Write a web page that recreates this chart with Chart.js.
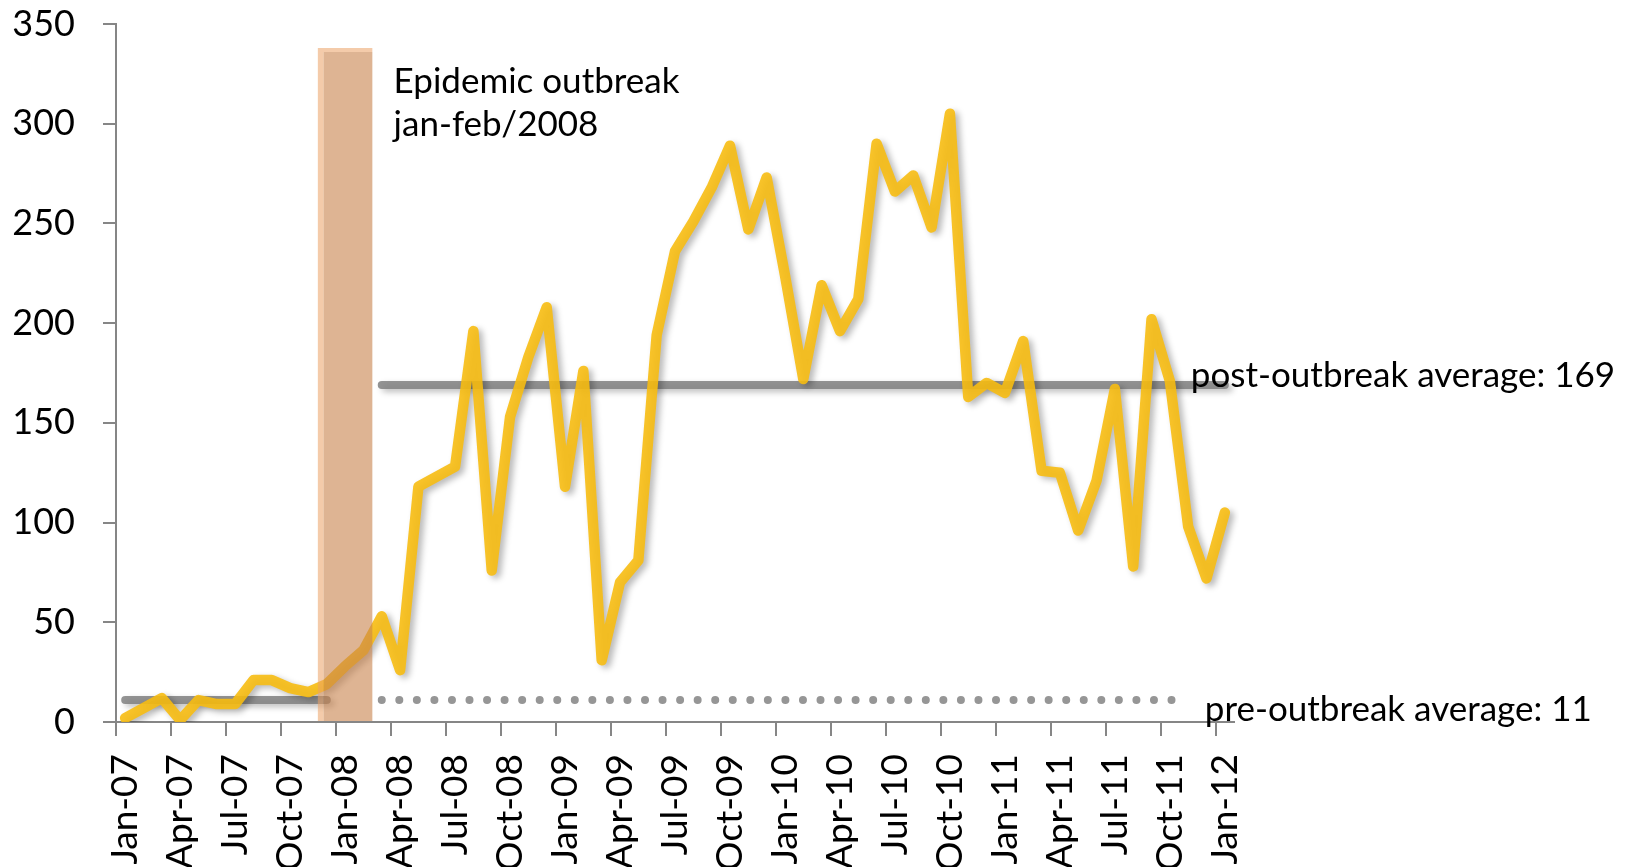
<!DOCTYPE html>
<html>
<head>
<meta charset="utf-8">
<script src="https://cdn.jsdelivr.net/npm/chart.js@4.4.1/dist/chart.umd.min.js"></script>
<style>
  html, body { margin: 0; padding: 0; background: #ffffff; }
  #wrap { width: 1626px; height: 867px; position: relative; }
  canvas { display: block; }
</style>
</head>
<body>
<div id="wrap"><canvas id="chart" width="1626" height="867"></canvas></div>
<script>
// Monthly case counts, January 2007 to January 2012
const months = [
  'Jan-07','Feb-07','Mar-07','Apr-07','May-07','Jun-07','Jul-07','Aug-07','Sep-07','Oct-07','Nov-07','Dec-07',
  'Jan-08','Feb-08','Mar-08','Apr-08','May-08','Jun-08','Jul-08','Aug-08','Sep-08','Oct-08','Nov-08','Dec-08',
  'Jan-09','Feb-09','Mar-09','Apr-09','May-09','Jun-09','Jul-09','Aug-09','Sep-09','Oct-09','Nov-09','Dec-09',
  'Jan-10','Feb-10','Mar-10','Apr-10','May-10','Jun-10','Jul-10','Aug-10','Sep-10','Oct-10','Nov-10','Dec-10',
  'Jan-11','Feb-11','Mar-11','Apr-11','May-11','Jun-11','Jul-11','Aug-11','Sep-11','Oct-11','Nov-11','Dec-11',
  'Jan-12'
];

const cases = [
  2, 7, 12, 1, 11, 9, 9, 21, 21, 17, 15, 19,
  28, 36, 53, 26, 118, 123, 128, 196, 76, 153, 183, 208,
  118, 176, 31, 70, 81, 194, 236, 251, 268, 289, 247, 273,
  224, 172, 219, 196, 212, 290, 266, 274, 248, 305, 163, 170,
  165, 191, 126, 125, 96, 121, 167, 78, 202, 171, 98, 72,
  105
];

const yTicks = [0, 50, 100, 150, 200, 250, 300, 350];

// Reference levels and the months they span
const preAverage = 11;
const postAverage = 169;
const preSpan = ['Jan-07', 'Dec-07'];
const postSpan = ['Mar-08', 'Jan-12'];
const preCompareSpan = ['Mar-08', 'Nov-11'];

// Shaded band marking the outbreak
const outbreakMonth = 'Jan-08';
const outbreakBandTop = 338;

const outbreakNote = ['Epidemic outbreak', 'jan-feb/2008'];
const postNote = 'post-outbreak average: ' + postAverage;
const preNote = 'pre-outbreak average: ' + preAverage;

function levelOver(span, level) {
  const a = months.indexOf(span[0]);
  const b = months.indexOf(span[1]);
  return months.map((m, i) => (i >= a && i <= b ? level : null));
}

const FONT = 'Lato';
const AXIS_GREY = '#868686';

// Soft drop shadow under the drawn series
const shadowPlugin = {
  id: 'softShadow',
  beforeDatasetDraw(chart, args) {
    const ds = chart.data.datasets[args.index];
    const c = chart.ctx;
    c.save();
    if (!ds.noShadow) {
      c.shadowColor = 'rgba(0,0,0,0.3)';
      c.shadowBlur = 6;
      c.shadowOffsetX = 4;
      c.shadowOffsetY = 3;
    }
  },
  afterDatasetDraw(chart) {
    chart.ctx.restore();
  }
};

// Text notes beside the band and the average lines
const notesPlugin = {
  id: 'notes',
  afterDatasetsDraw(chart) {
    const c = chart.ctx;
    const x = chart.scales.x;
    const y = chart.scales.y;
    c.save();
    c.fillStyle = '#000000';
    c.font = '35px ' + FONT;
    c.textAlign = 'left';
    c.textBaseline = 'alphabetic';

    const bandIdx = months.indexOf(outbreakMonth);
    const cat = x.getPixelForValue(1) - x.getPixelForValue(0);
    const bandRight = x.getPixelForValue(bandIdx) + cat * 1.5;
    const topY = y.getPixelForValue(outbreakBandTop);
    c.fillText(outbreakNote[0], bandRight + 21, topY + 45);
    c.fillText(outbreakNote[1], bandRight + 21, topY + 88);

    const lastX = x.getPixelForValue(months.length - 1);
    c.fillText(postNote, lastX - 34, y.getPixelForValue(postAverage) + 2);
    c.fillText(preNote, lastX - 20, y.getPixelForValue(0) - 1);
    c.restore();
  }
};

function build() {
  const ctx = document.getElementById('chart').getContext('2d');
  new Chart(ctx, {
    data: {
      labels: months,
      datasets: [
        {
          type: 'bar',
          label: 'outbreak',
          data: months.map(m => (m === outbreakMonth ? outbreakBandTop : null)),
          backgroundColor: 'rgba(200,130,75,0.6)',
          borderColor: 'rgba(235,160,100,0.55)',
          borderWidth: { left: 6, top: 4, right: 0, bottom: 0 },
          borderSkipped: false,
          barPercentage: 3,
          categoryPercentage: 1,
          noShadow: true,
          order: 0
        },
        {
          type: 'line',
          label: 'cases',
          data: cases,
          borderColor: 'rgba(247,188,18,0.9)',
          borderWidth: 10.5,
          borderJoinStyle: 'round',
          borderCapStyle: 'round',
          pointRadius: 0,
          tension: 0,
          order: 1
        },
        {
          type: 'line',
          label: 'pre average',
          data: levelOver(preSpan, preAverage),
          borderColor: 'rgba(128,128,128,0.85)',
          borderWidth: 8,
          borderCapStyle: 'round',
          pointRadius: 0,
          order: 2
        },
        {
          type: 'line',
          label: 'post average',
          data: levelOver(postSpan, postAverage),
          borderColor: 'rgba(128,128,128,0.85)',
          borderWidth: 8,
          borderCapStyle: 'round',
          pointRadius: 0,
          order: 2
        },
        {
          type: 'line',
          label: 'pre average, after',
          data: levelOver(preCompareSpan, preAverage),
          borderColor: 'rgba(150,150,150,1)',
          borderWidth: 8,
          borderCapStyle: 'round',
          borderDash: [0, 17.55],
          pointRadius: 0,
          noShadow: true,
          order: 3
        }
      ]
    },
    options: {
      responsive: false,
      animation: false,
      devicePixelRatio: 1,
      layout: { padding: { left: 0, right: 392, top: 24, bottom: 0 } },
      plugins: {
        legend: { display: false },
        tooltip: { enabled: false }
      },
      scales: {
        x: {
          type: 'category',
          offset: true,
          border: { display: true, color: AXIS_GREY, width: 2 },
          grid: {
            offset: true,
            drawOnChartArea: false,
            drawTicks: true,
            tickLength: 14,
            lineWidth: 2,
            color: (c) => (typeof c.index === 'number' && c.index % 3 === 0 ? AXIS_GREY : 'rgba(0,0,0,0)')
          },
          ticks: {
            autoSkip: false,
            maxRotation: 90,
            minRotation: 90,
            padding: 18,
            color: '#000000',
            font: { family: FONT, size: 37 },
            callback: (v, i) => (i % 3 === 0 ? months[i] : '')
          },
          afterFit: (s) => { s.height = 145; }
        },
        y: {
          min: 0,
          max: 350,
          afterBuildTicks: (s) => { s.ticks = yTicks.map(v => ({ value: v })); },
          border: { display: true, color: AXIS_GREY, width: 2 },
          grid: {
            drawOnChartArea: false,
            drawTicks: true,
            tickLength: 13,
            lineWidth: 2,
            color: AXIS_GREY
          },
          ticks: {
            padding: 28,
            color: '#000000',
            font: { family: FONT, size: 36 }
          },
          afterFit: (s) => {
            s.width = 116;
            s.paddingTop = 0;
            s.paddingBottom = 0;
          }
        }
      }
    },
    plugins: [shadowPlugin, notesPlugin]
  });
}

if (document.fonts && document.fonts.load) {
  Promise.all([document.fonts.load('36px Lato'), document.fonts.load('37px Lato')])
    .then(build, build);
} else {
  build();
}
</script>
</body>
</html>
